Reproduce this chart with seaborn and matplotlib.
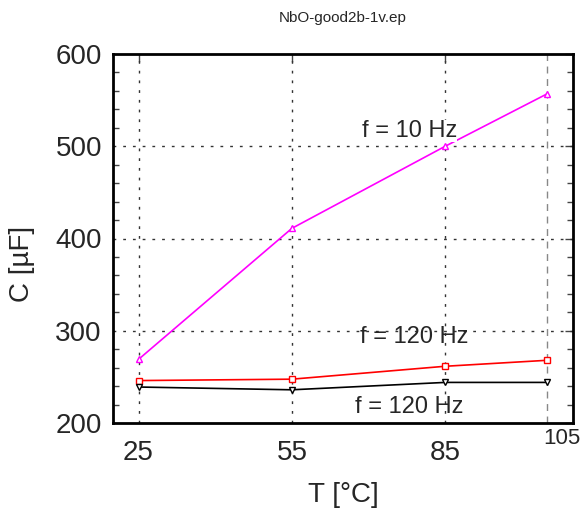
import matplotlib
matplotlib.use("Agg")
import matplotlib.pyplot as plt
import seaborn as sns
import pandas as pd
from matplotlib.ticker import MultipleLocator

sns.set_style("white")
plt.rcParams['font.family'] = ['Liberation Sans', 'DejaVu Sans']

temps = [25, 55, 85, 105]
c_10hz = [269, 411, 500, 557]
c_120hz_a = [246, 247.5, 261.5, 268]
c_120hz_b = [239, 236, 244, 244]
x_ticks = [25, 55, 85]
y_ticks = [200, 300, 400, 500, 600]

fig = plt.figure(figsize=(5.83, 5.14), dpi=100)
ax = fig.add_axes([113/583, 1-423/514, 460/583, 369/514])

series = [
    (c_10hz, '#ff00ff', '^'),
    (c_120hz_a, '#ff0000', 's'),
    (c_120hz_b, '#000000', 'v'),
]
for vals, col, mk in series:
    df = pd.DataFrame({'T': temps, 'C': vals})
    sns.lineplot(data=df, x='T', y='C', ax=ax, color=col, marker=mk,
                 markersize=5, markerfacecolor='white', markeredgecolor=col,
                 markeredgewidth=1, linewidth=1.2, legend=False, zorder=3)

ax.set_xlim(20, 110)
ax.set_ylim(200, 600)
ax.set_xticks(x_ticks)
ax.set_xticklabels([str(v) for v in x_ticks])
ax.set_yticks(y_ticks)
ax.yaxis.set_minor_locator(MultipleLocator(20))
ax.tick_params(axis='both', which='major', direction='in', length=6, width=1,
               labelsize=20, top=True, right=True, color='#444444')
ax.tick_params(axis='x', pad=12)
ax.tick_params(axis='y', pad=8)
ax.tick_params(axis='y', which='minor', direction='in', length=4, width=1,
               left=True, right=True, color='#444444')
for s in ax.spines.values():
    s.set_linewidth(2)
    s.set_color('black')

for xv in x_ticks:
    ax.axvline(xv, color='#333333', linestyle=(0, (2, 5)), linewidth=1, zorder=1)
for yv in [300, 400, 500]:
    ax.axhline(yv, color='#333333', linestyle=(0, (2, 5)), linewidth=1, zorder=1)
ax.axvline(105, color='#888888', linestyle=(0, (5, 4)), linewidth=1, zorder=1)

ax.set_xlabel('')
ax.set_ylabel('')

ax.text(78, 517, 'f = 10 Hz', fontsize=17, ha='center', va='center', zorder=4,
        bbox=dict(facecolor='white', edgecolor='none', pad=0))
ax.text(79, 293, 'f = 120 Hz', fontsize=17, ha='center', va='center', zorder=4)
ax.text(78, 217, 'f = 120 Hz', fontsize=17, ha='center', va='center', zorder=4)

fig.text(562/583, 1-438/514, '105', fontsize=16, ha='center', va='center', zorder=10,
         bbox=dict(facecolor='white', edgecolor='none', pad=0.5))
fig.text(343/583, 1-18/514, 'NbO-good2b-1v.ep', fontsize=11, ha='center', va='center')
fig.text(343/583, 1-495/514, 'T [°C]', fontsize=20, ha='center', va='center')
fig.text(22/583, 1-264/514, 'C [µF]', fontsize=20, ha='center', va='center', rotation=90)

fig.savefig('out.png', dpi=100)
